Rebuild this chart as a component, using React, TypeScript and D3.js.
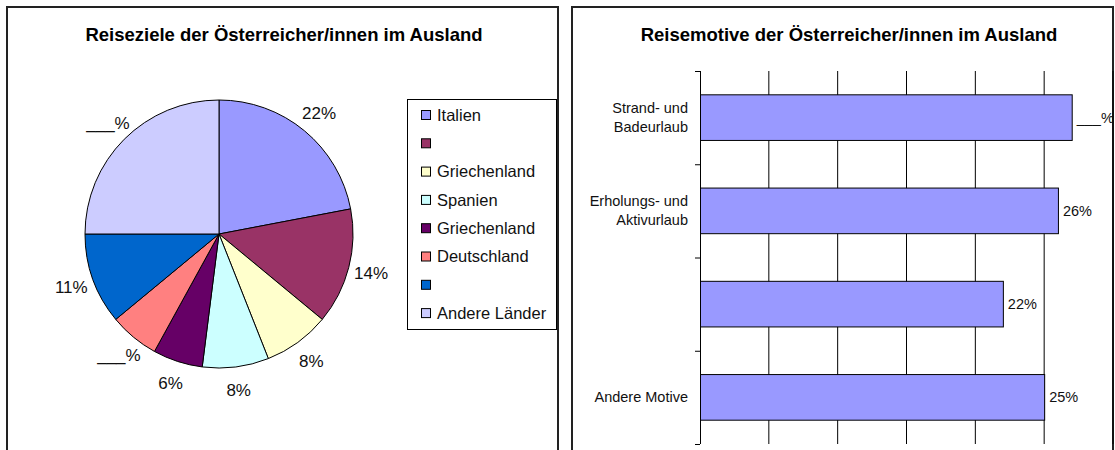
import React from 'react';
import * as d3 from 'd3';

// pie: travel destinations
const pieCategories = ['Italien', '', 'Griechenland', 'Spanien', 'Griechenland', 'Deutschland', '', 'Andere Länder'];
const pieValues = [22, 14, 8, 8, 6, 6, 11, 25];
const pieLabels = ['22%', '14%', '8%', '8%', '6%', '___%', '11%', '___%'];
const pieColors = ['#9999FF', '#993366', '#FFFFCC', '#CCFFFF', '#660066', '#FF8080', '#0066CC', '#CCCCFF'];

// bars: travel motives
const barCategories = ['Strand- und\nBadeurlaub', 'Erholungs- und\nAktivurlaub', '', 'Andere Motive'];
const barValues = [27, 26, 22, 25];
const barLabels = ['___%', '26%', '22%', '25%'];
const xTicks = [5, 10, 15, 20, 25, 30];

const font = '"Liberation Sans", Arial, sans-serif';

const App = () => {
    const cx = 219, cy = 234, r = 134;
    const pie = d3.pie<number>().sort(null).value(d => d);
    const arcs = pie(pieValues);
    const arc = d3.arc<d3.PieArcDatum<number>>().innerRadius(0).outerRadius(r);
    const labelArc = d3.arc<d3.PieArcDatum<number>>().innerRadius(157).outerRadius(157);

    const x = d3.scaleLinear().domain([0, 30]).range([700, 1113]);
    const y = d3.scaleBand()
        .domain(barCategories)
        .range([71, 444])
        .paddingInner(0.5)
        .paddingOuter(0.25);
    const step = y.step();
    const bandTop = (c: string) => y(c)! - step * 0.25;

    return (
        <svg width={1115} height={450} style={{position: 'absolute', left: 0, top: 0, fontFamily: font}}>
            <rect x={0} y={0} width={1115} height={450} fill="#fff"/>

            {/* left panel */}
            <rect x={7} y={7} width={551} height={460} fill="none" stroke="#222" strokeWidth={2}/>
            <text x={284} y={41} textAnchor="middle" fontWeight="bold" fontSize="18.5px">Reiseziele der Österreicher/innen im Ausland</text>
            <g transform={`translate(${cx},${cy})`}>
                {arcs.map((a, i) =>
                    <path key={i} d={arc(a)!} fill={pieColors[i]} stroke="#000" strokeWidth={1}/>
                )}
                {arcs.map((a, i) => {
                    const [lx, ly] = labelArc.centroid(a);
                    return <text key={'l' + i} x={lx} y={ly} dy="0.35em" textAnchor="middle" fontSize="17px" fill="#111">{pieLabels[i]}</text>;
                })}
            </g>
            <rect x={407.5} y={99.5} width={149} height={230} fill="#fff" stroke="#000" strokeWidth={1}/>
            {pieCategories.map((c, i) =>
                <g key={i} transform={`translate(0,${115 + i * 28.3})`}>
                    <rect x={421.5} y={-4.5} width={9} height={9} fill={pieColors[i]} stroke="#000" strokeWidth={1}/>
                    <text x={437} y={0} dy="0.35em" fontSize="16.5px" fill="#111">{c}</text>
                </g>
            )}

            {/* right panel */}
            <rect x={572} y={7} width={541} height={460} fill="none" stroke="#222" strokeWidth={2}/>
            <text x={849} y={41} textAnchor="middle" fontWeight="bold" fontSize="18.5px">Reisemotive der Österreicher/innen im Ausland</text>
            {xTicks.map(t =>
                <line key={t} x1={x(t)} x2={x(t)} y1={71} y2={444} stroke="#000" strokeWidth={1}/>
            )}
            <line x1={700.5} x2={700.5} y1={71} y2={444} stroke="#000"/>
            {d3.range(barCategories.length + 1).map(i =>
                <line key={i} x1={695} x2={700} y1={71 + i * step + 0.5} y2={71 + i * step + 0.5} stroke="#000"/>
            )}
            {barCategories.map((c, i) =>
                <g key={i}>
                    <rect x={x(0) + 0.5} y={y(c)! + 0.5} width={x(barValues[i]) - x(0)} height={y.bandwidth() - 1}
                          fill="#9999FF" stroke="#000" strokeWidth={1}/>
                    <text x={x(barValues[i]) + 5} y={y(c)! + y.bandwidth() / 2} dy="0.35em" fontSize="14.5px" fill="#111">{barLabels[i]}</text>
                    {c.split('\n').map((line, j, arr) =>
                        <text key={j} x={688} y={bandTop(c) + step / 2 + (j - (arr.length - 1) / 2) * 19} dy="0.35em"
                              textAnchor="end" fontSize="14.5px" fill="#111">{line}</text>
                    )}
                </g>
            )}
        </svg>
    );
};

export default App;
